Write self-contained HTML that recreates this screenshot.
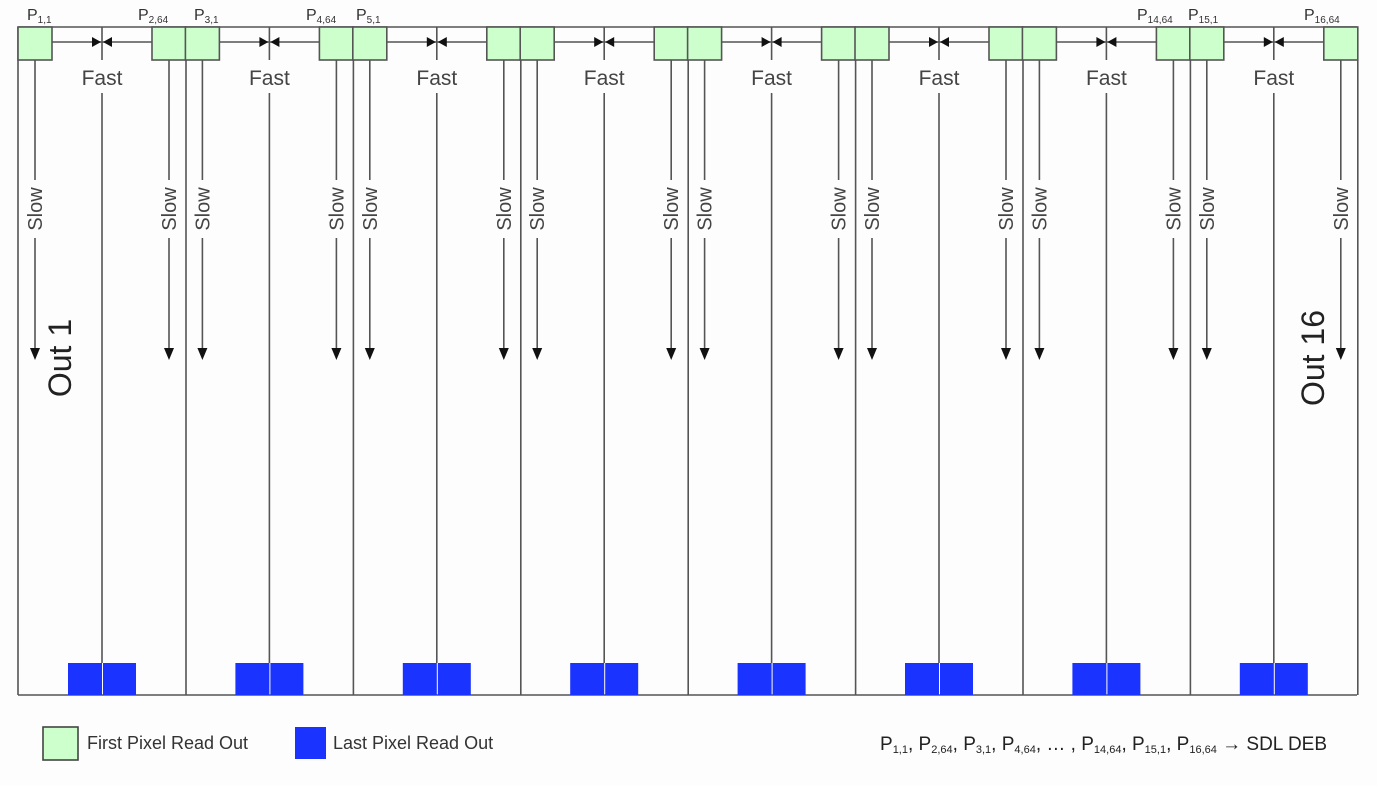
<!DOCTYPE html>
<html><head><meta charset="utf-8"><style>
html,body{margin:0;padding:0;background:#fdfdfd;}
svg{display:block;font-family:"Liberation Sans",Arial,sans-serif;}
</style></head><body>
<svg width="1377" height="786" viewBox="0 0 1377 786" xmlns="http://www.w3.org/2000/svg">
<defs>
<g id="sec" stroke="#555" stroke-width="1.6" fill="none">
  <line x1="52" y1="42" x2="152" y2="42"/>
  <line x1="102" y1="27" x2="102" y2="60"/>
  <line x1="102" y1="93" x2="102" y2="663"/>
  <polygon points="92,37 101,42 92,47" fill="#111" stroke="none"/>
  <polygon points="103,42 112,37 112,47" fill="#111" stroke="none"/>
  <line x1="35" y1="60" x2="35" y2="180"/>
  <line x1="35" y1="238" x2="35" y2="352"/>
  <polygon points="30,348 40,348 35,360" fill="#111" stroke="none"/>
  <line x1="169" y1="60" x2="169" y2="180"/>
  <line x1="169" y1="238" x2="169" y2="352"/>
  <polygon points="164,348 174,348 169,360" fill="#111" stroke="none"/>
  <rect x="18" y="27" width="34" height="33" fill="#ccffcc" stroke="#555"/>
  <rect x="152" y="27" width="34" height="33" fill="#ccffcc" stroke="#555"/>
  <line x1="186" y1="60" x2="186" y2="695"/>
  <rect x="68" y="663" width="34" height="32" fill="#1a33ff" stroke="none"/>
  <rect x="103" y="663" width="33" height="32" fill="#1a33ff" stroke="none"/>
  <text x="102" y="85" font-size="21" text-anchor="middle" fill="#444" stroke="none">Fast</text>
  <text transform="translate(42,209) rotate(-90)" font-size="20" text-anchor="middle" fill="#444" stroke="none">Slow</text>
  <text transform="translate(176,209) rotate(-90)" font-size="20" text-anchor="middle" fill="#444" stroke="none">Slow</text>
</g>
</defs>
<g stroke="#555" stroke-width="1.6">
  <line x1="18" y1="27" x2="1357" y2="27"/>
  <line x1="18" y1="27" x2="18" y2="695"/>
  <line x1="18" y1="695" x2="1357" y2="695"/>
</g>
<use href="#sec"/>
<use href="#sec" transform="translate(167.4,0)"/>
<use href="#sec" transform="translate(334.8,0)"/>
<use href="#sec" transform="translate(502.2,0)"/>
<use href="#sec" transform="translate(669.6,0)"/>
<use href="#sec" transform="translate(837,0)"/>
<use href="#sec" transform="translate(1004.4,0)"/>
<use href="#sec" transform="translate(1171.8,0)"/>
<text transform="translate(71,358) rotate(-90)" font-size="32" text-anchor="middle" fill="#222">Out 1</text>
<text transform="translate(1324,358) rotate(-90)" font-size="32" text-anchor="middle" fill="#222">Out 16</text>
<g font-size="16" fill="#333">
  <text x="27" y="20">P<tspan font-size="10" dy="3">1,1</tspan></text>
  <text x="138" y="20">P<tspan font-size="10" dy="3">2,64</tspan></text>
  <text x="194" y="20">P<tspan font-size="10" dy="3">3,1</tspan></text>
  <text x="306" y="20">P<tspan font-size="10" dy="3">4,64</tspan></text>
  <text x="356" y="20">P<tspan font-size="10" dy="3">5,1</tspan></text>
  <text x="1137" y="20">P<tspan font-size="10" dy="3">14,64</tspan></text>
  <text x="1188" y="20">P<tspan font-size="10" dy="3">15,1</tspan></text>
  <text x="1304" y="20">P<tspan font-size="10" dy="3">16,64</tspan></text>
</g>
<rect x="43" y="727" width="35" height="33" fill="#ccffcc" stroke="#444" stroke-width="1.6"/>
<text x="87" y="749" font-size="18" fill="#333">First Pixel Read Out</text>
<rect x="295" y="727" width="31" height="32" fill="#1a33ff"/>
<text x="333" y="749" font-size="18" fill="#333">Last Pixel Read Out</text>
<text x="880" y="750" font-size="19" fill="#222">P<tspan font-size="11" dy="3">1,1</tspan><tspan dy="-3">, P</tspan><tspan font-size="11" dy="3">2,64</tspan><tspan dy="-3">, P</tspan><tspan font-size="11" dy="3">3,1</tspan><tspan dy="-3">, P</tspan><tspan font-size="11" dy="3">4,64</tspan><tspan dy="-3">, … , P</tspan><tspan font-size="11" dy="3">14,64</tspan><tspan dy="-3">, P</tspan><tspan font-size="11" dy="3">15,1</tspan><tspan dy="-3">, P</tspan><tspan font-size="11" dy="3">16,64</tspan><tspan dy="-3"> → SDL DEB</tspan></text>
</svg>
</body></html>
